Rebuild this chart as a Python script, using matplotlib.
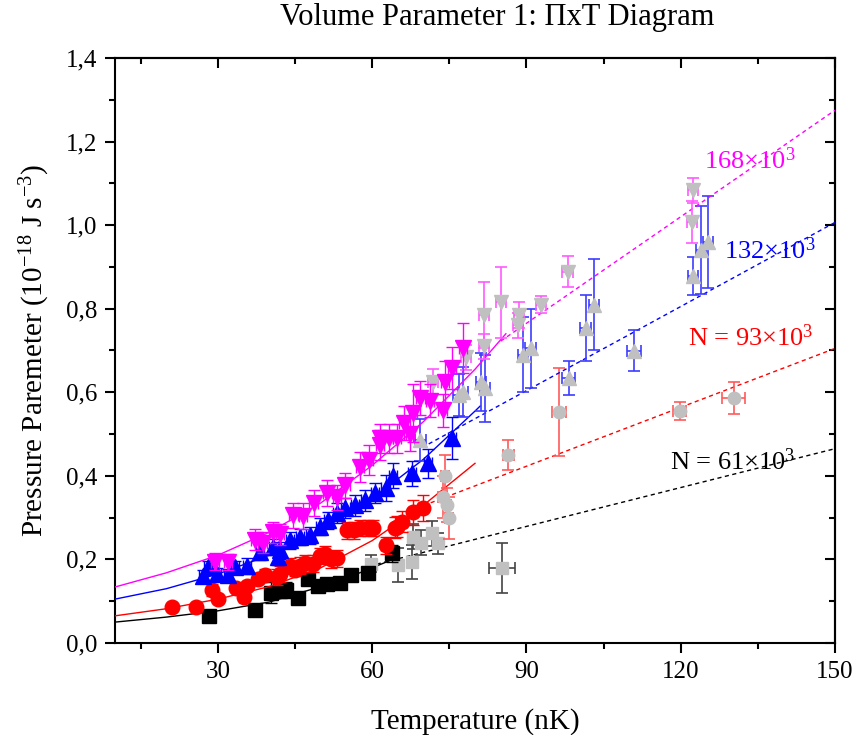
import numpy as np
import matplotlib
matplotlib.use('Agg')
import matplotlib.pyplot as plt
from matplotlib.ticker import MultipleLocator, FuncFormatter, NullFormatter

plt.rcParams['font.family'] = ['Liberation Serif', 'DejaVu Serif']
plt.rcParams['mathtext.fontset'] = 'custom'
plt.rcParams['mathtext.rm'] = 'Liberation Serif'
plt.rcParams['mathtext.it'] = 'Liberation Serif:italic'

# ---- data (T in nK, P in 1e-18 J s^-3) ----
# N = 61e3, black squares
blk_T = [28.3, 37.3, 40.4, 42.1, 43.3, 45.6, 47.6, 49.5, 51.3, 53.8, 55.8, 59.1, 63.9]
blk_P = [0.065, 0.079, 0.120, 0.124, 0.127, 0.108, 0.153, 0.136, 0.141, 0.144, 0.163, 0.167, 0.215]
blk_E = [0.0, 0.0, 0.025, 0.0, 0.02, 0.0, 0.015, 0.01, 0.01, 0.015, 0.01, 0.01, 0.02]
blk_gT = [59.7, 65.1, 67.8, 68.0, 69.5, 71.7, 72.9, 85.2]
blk_gP = [0.190, 0.187, 0.194, 0.254, 0.240, 0.263, 0.239, 0.179]
blk_gE = [0.02, 0.04, 0.04, 0.03, 0.03, 0.03, 0.025, 0.06]
blk_gX = [0.8, 0.8, 0.8, 0.8, 0.8, 0.8, 0.8, 2.5]
blk_fitT = [10, 20, 30, 40, 50, 55, 60, 65]
blk_fitP = [0.050, 0.062, 0.077, 0.098, 0.135, 0.155, 0.180, 0.205]
blk_lin = [58, 150]
blk_slope = 0.0031

# N = 93e3, red circles
red_T = [21.1, 25.8, 28.9, 30.1, 33.6, 35.0, 35.7, 37.8, 39.2, 41.5, 42.1, 44.1, 45.0, 46.0,
         47.0, 48.5, 49.9, 50.9, 52.0, 53.2, 55.2, 56.4, 57.7, 59.1, 60.2, 62.6, 64.5, 64.9,
         65.9, 68.0, 69.8]
red_P = [0.086, 0.086, 0.127, 0.105, 0.131, 0.110, 0.136, 0.153, 0.163, 0.158, 0.165, 0.184,
         0.175, 0.185, 0.191, 0.190, 0.208, 0.212, 0.200, 0.203, 0.270, 0.270, 0.275, 0.275,
         0.275, 0.234, 0.276, 0.278, 0.290, 0.313, 0.323]
red_E = [0.0, 0.0, 0.015, 0.0, 0.0, 0.0, 0.01, 0.01, 0.015, 0.02, 0.02, 0.02, 0.015, 0.02,
         0.02, 0.02, 0.02, 0.02, 0.02, 0.02, 0.02, 0.02, 0.02, 0.02, 0.02, 0.02, 0.025, 0.025,
         0.025, 0.03, 0.03]
red_gT = [74.2, 73.7, 74.5, 75.0, 86.5, 96.3, 119.8, 130.3]
red_gP = [0.400, 0.350, 0.330, 0.300, 0.450, 0.553, 0.555, 0.586]
red_gE = [0.05, 0.05, 0.04, 0.05, 0.035, 0.105, 0.022, 0.038]
red_gX = [0.8, 0.8, 0.8, 0.8, 1.0, 1.3, 1.3, 2.2]
red_fitT = [10, 20, 30, 40, 50, 60, 70, 80]
red_fitP = [0.065, 0.082, 0.105, 0.135, 0.180, 0.245, 0.330, 0.430]
red_lin = [70, 150]
red_slope = 0.0047

# N = 132e3, blue up triangles
blu_T = [27.1, 28.1, 29.9, 32.0, 33.4, 35.7, 38.2, 40.8, 41.7, 42.1, 44.1, 46.0, 48.0, 49.9,
         51.5, 53.2, 54.8, 56.7, 58.7, 60.6, 62.6, 64.1, 67.8, 70.9, 75.6]
blu_P = [0.160, 0.182, 0.165, 0.163, 0.182, 0.184, 0.218, 0.230, 0.206, 0.222, 0.246, 0.254,
         0.258, 0.278, 0.294, 0.311, 0.323, 0.330, 0.342, 0.359, 0.371, 0.400, 0.406, 0.430,
         0.490]
blu_E = [0.015, 0.015, 0.015, 0.015, 0.015, 0.02, 0.02, 0.02, 0.02, 0.02, 0.02, 0.02, 0.02,
         0.02, 0.02, 0.025, 0.025, 0.025, 0.025, 0.025, 0.03, 0.03, 0.03, 0.035, 0.05]
blu_gT = [69.4, 76.8, 77.6, 81.1, 82.0, 89.4, 90.8, 98.2, 101.5, 103.1, 110.9, 122.4, 123.9, 125.3]
blu_gP = [0.486, 0.593, 0.600, 0.625, 0.610, 0.690, 0.705, 0.634, 0.754, 0.810, 0.700, 0.878,
          0.940, 0.960]
blu_gE = [0.05, 0.05, 0.06, 0.07, 0.08, 0.09, 0.095, 0.04, 0.08, 0.11, 0.05, 0.045, 0.105, 0.11]
blu_gX = [1.0, 1.0, 1.0, 1.0, 1.0, 1.0, 1.0, 1.2, 1.0, 1.0, 1.3, 1.0, 1.0, 1.0]
blu_fitT = [10, 20, 30, 40, 50, 60, 70, 80, 81]
blu_fitP = [0.105, 0.130, 0.165, 0.210, 0.270, 0.345, 0.440, 0.555, 0.567]
blu_lin = [71, 150]
blu_slope = 0.00671

# N = 168e3, magenta down triangles
mag_T = [29.5, 32.0, 37.3, 38.7, 40.8, 42.1, 44.7, 46.6, 48.6, 51.3, 53.2, 54.8, 57.7, 59.3,
         61.6, 61.6, 63.2, 64.9, 66.1, 67.4, 68.0, 69.4, 71.3, 73.7, 74.2, 75.6, 77.6]
mag_P = [0.195, 0.194, 0.247, 0.240, 0.265, 0.260, 0.306, 0.304, 0.335, 0.359, 0.349, 0.378,
         0.421, 0.438, 0.474, 0.490, 0.490, 0.490, 0.526, 0.500, 0.550, 0.586, 0.580, 0.557,
         0.624, 0.658, 0.705]
mag_E = [0.02, 0.02, 0.025, 0.025, 0.025, 0.025, 0.03, 0.03, 0.03, 0.03, 0.03, 0.03, 0.035,
         0.035, 0.035, 0.035, 0.035, 0.035, 0.04, 0.04, 0.07, 0.04, 0.04, 0.04, 0.05, 0.05, 0.06]
mag_gT = [71.9, 78.2, 81.7, 81.7, 85.0, 88.3, 88.5, 92.8, 98.0, 122.2, 122.4]
mag_gP = [0.625, 0.684, 0.785, 0.710, 0.815, 0.760, 0.785, 0.810, 0.888, 1.007, 1.084]
mag_gE = [0.03, 0.03, 0.08, 0.03, 0.085, 0.03, 0.03, 0.02, 0.037, 0.05, 0.03]
mag_gX = [1.0, 1.0, 1.0, 1.0, 1.0, 1.0, 1.0, 1.0, 1.0, 1.0, 1.0]
mag_fitT = [10, 20, 30, 40, 50, 60, 70, 80, 86]
mag_fitP = [0.134, 0.168, 0.210, 0.265, 0.335, 0.425, 0.530, 0.655, 0.740]
mag_lin = [85, 150]
mag_slope = 0.0085

labels = ['N = 61$\\times$10$^3$', 'N = 93$\\times$10$^3$',
          '132$\\times$10$^3$', '168$\\times$10$^3$']
label_pos = [(118.0, 0.433), (121.5, 0.730), (128.5, 0.940), (124.5, 1.155)]

GRAY = '#c0c0c0'


def draw_series(ax, T, P, E, gT, gP, gE, gX, fitT, fitP, lin, slope,
                color, ecol, gecol, marker, ms, z):
    ax.plot(fitT, fitP, '-', color=color, lw=1.0, zorder=z)
    lt = np.array(lin, dtype=float)
    ax.plot(lt, slope * lt, '--', color=color, lw=1.0, dashes=(3, 2.5), zorder=z)
    ax.errorbar(gT, gP, yerr=gE, xerr=gX, fmt='none', ecolor=gecol, elinewidth=1.2,
                capsize=4, capthick=1.2, zorder=z + 0.1)
    ax.plot(gT, gP, ls='none', marker=marker, ms=ms - 1.5, color=GRAY, mec=GRAY, zorder=z + 0.2)
    ax.errorbar(T, P, yerr=E, xerr=0.8, fmt='none', ecolor=ecol, elinewidth=1.0,
                capsize=4, capthick=1.0, zorder=z + 0.3)
    ax.plot(T, P, ls='none', marker=marker, ms=ms, color=color, mec=color, zorder=z + 0.4)


fig = plt.figure(figsize=(8.55, 7.35), dpi=100)
ax = fig.add_axes([115 / 855, 92 / 735, 720 / 855, 585 / 735])

draw_series(ax, blk_T, blk_P, blk_E, blk_gT, blk_gP, blk_gE, blk_gX, blk_fitT, blk_fitP,
            blk_lin, blk_slope, 'black', 'black', '#444444', 's', 9.5, 3)
draw_series(ax, red_T, red_P, red_E, red_gT, red_gP, red_gE, red_gX, red_fitT, red_fitP,
            red_lin, red_slope, 'red', 'red', '#ff5a5a', 'o', 10.5, 4)
draw_series(ax, blu_T, blu_P, blu_E, blu_gT, blu_gP, blu_gE, blu_gX, blu_fitT, blu_fitP,
            blu_lin, blu_slope, 'blue', 'blue', '#3c3cff', '^', 11, 5)
draw_series(ax, mag_T, mag_P, mag_E, mag_gT, mag_gP, mag_gE, mag_gX, mag_fitT, mag_fitP,
            mag_lin, mag_slope, 'magenta', 'magenta', '#ff5aff', 'v', 11, 6)

for txt, (x, y), c in zip(labels, label_pos, ['black', 'red', 'blue', 'magenta']):
    ax.text(x, y, txt, color=c, fontsize=19, ha='left', va='center', zorder=10)

ax.set_xlim(10, 150)
ax.set_ylim(0, 1.4)
ax.xaxis.set_major_locator(MultipleLocator(30))
ax.xaxis.set_minor_locator(MultipleLocator(15))
ax.yaxis.set_major_locator(MultipleLocator(0.2))
ax.yaxis.set_minor_locator(MultipleLocator(0.1))
ax.yaxis.set_major_formatter(FuncFormatter(lambda v, p: ('%.1f' % v).replace('.', ',')))
ax.tick_params(which='both', direction='out', width=1.5, labelsize=18, pad=6)
ax.tick_params(which='major', length=7)
ax.tick_params(which='minor', length=4.5)
for sp in ax.spines.values():
    sp.set_linewidth(1.5)

# top and right axes carry inward ticks, no labels
top = ax.secondary_xaxis('top')
top.xaxis.set_major_locator(MultipleLocator(30))
top.xaxis.set_minor_locator(MultipleLocator(15))
top.xaxis.set_major_formatter(NullFormatter())
right = ax.secondary_yaxis('right')
right.yaxis.set_major_locator(MultipleLocator(0.2))
right.yaxis.set_minor_locator(MultipleLocator(0.1))
right.yaxis.set_major_formatter(NullFormatter())
for sec in (top, right):
    sec.tick_params(which='both', direction='in', width=1.5)
    sec.tick_params(which='major', length=7)
    sec.tick_params(which='minor', length=4.5)
    for sp in sec.spines.values():
        sp.set_linewidth(1.5)

ax.set_xlabel('Temperature (nK)', fontsize=21, labelpad=18)
ax.set_ylabel('Pressure Paremeter (10$^{-18}$ J s$^{-3}$)', fontsize=21, labelpad=10)
fig.text(497 / 855, 1 - 18 / 735, 'Volume Parameter 1: \u03a0xT Diagram', fontsize=22,
         ha='center', va='center')

fig.savefig('out.png', dpi=100)
